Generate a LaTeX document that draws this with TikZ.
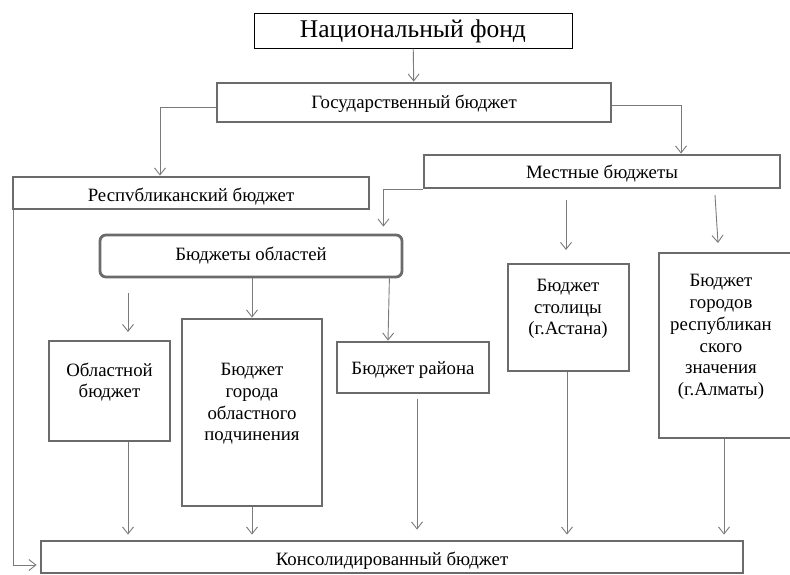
\documentclass[tikz,border=0pt]{standalone}
\usepackage{fontspec}
\setmainfont{Liberation Serif}
\usetikzlibrary{arrows.meta}
\definecolor{boxgray}{HTML}{6B6B6B}
\definecolor{linegray}{HTML}{7A7A7A}
\tikzset{
  x=1pt, y=-1pt,
  thickbox/.style={draw=boxgray, line width=2.8pt, fill=white, inner sep=0pt},
  thinbox/.style={draw=black, line width=1pt, fill=white, inner sep=0pt, text height=16.8pt, text depth=2pt},
  txt/.style={font=\fontsize{18.8}{21.7}\selectfont, align=center, inner sep=0pt},
  onefont/.style={font=\fontsize{18.8}{22}\selectfont, text height=12.4pt, text depth=0pt},
  arr/.style={draw=linegray, line width=0.9pt, -{Straight Barb[length=7pt, width=11pt, line width=0.9pt]}}
}
\begin{document}
\begin{tikzpicture}
\useasboundingbox (0,0) rectangle (790,574);
% boxes
\node[thinbox, minimum width=318pt, minimum height=35pt, font=\fontsize{25.5}{28}\selectfont] (nat) at (413,30.5) {Национальный фонд};
\node[thickbox, minimum width=394pt, minimum height=39pt, onefont] (gos) at (414,102.5) {Государственный бюджет};
\node[thickbox, minimum width=356pt, minimum height=32pt, onefont, text height=16.4pt] (resp) at (191,193) {Респvбликанский бюджет};
\node[thickbox, minimum width=356pt, minimum height=33pt, onefont, text height=14.4pt] (mest) at (602,171.5) {Местные бюджеты};
\node[thickbox, rounded corners=6pt, minimum width=302pt, minimum height=42pt, onefont, text depth=4pt] (obl) at (251,256) {Бюджеты областей};
\node[thickbox, minimum width=121pt, minimum height=100pt] (oblb) at (109.5,391) {};
\node[txt] (oblbt) at (109.5,382) {Областной\\бюджет};
\node[thickbox, minimum width=140pt, minimum height=187pt] (gor) at (252,412.5) {};
\node[txt] (gort) at (252,404) {Бюджет\\города\\областного\\подчинения};
\node[thickbox, minimum width=152pt, minimum height=51pt, onefont, text height=13.4pt] (rayon) at (413,367.5) {Бюджет района};
\node[thickbox, minimum width=121pt, minimum height=107pt] (stol) at (568.5,317.5) {};
\node[txt] (stolt) at (568,309) {Бюджет\\столицы\\(г.Астана)};
\node[thickbox, minimum width=134pt, minimum height=185pt] (alm) at (726,345.5) {};
\node[txt] (almt) at (721,337) {Бюджет\\городов\\республикан\\ского\\значения\\(г.Алматы)};
\node[thickbox, minimum width=702pt, minimum height=32pt, onefont, text height=16.4pt] (kons) at (392,557) {Консолидированный бюджет};
% named free ends
\coordinate (c1s) at (128,293);
\coordinate (c1e) at (128,332);
\coordinate (c2s) at (566,200);
\coordinate (c2e) at (566,250);
\coordinate (c3s) at (715,195);
\coordinate (c3e) at (718,243);
\coordinate (c4s) at (417,399);
% connectors
\draw[arr] (nat) -- (gos);
\draw[arr] ([yshift=-5pt]gos.west) -| ([xshift=-31pt]resp.north);
\draw[arr] ([yshift=-3pt]gos.east) -| ([xshift=79pt]mest.north);
\draw[arr] (mest.south west) -| ([xshift=-20pt,yshift=7pt]obl.north east);
\draw[arr] (obl.south -| gor.north) -- (gor.north);
\draw[arr] ([xshift=-14pt]obl.south east) -- ([xshift=-25pt]rayon.north);
\draw[arr] (c1s) -- (c1e);
\draw[arr] (c2s) -- (c2e);
\draw[arr] (c3s) -- (c3e);
\draw[arr] ([xshift=18.5pt]oblb.south) -- ([xshift=-264pt,yshift=5pt]kons.north);
\draw[arr] (gor.south) -- ([xshift=-140pt,yshift=5pt]kons.north);
\draw[arr] (c4s) -- ([xshift=25pt,yshift=10pt]kons.north);
\draw[arr] ([xshift=-1.5pt]stol.south) -- ([xshift=175pt,yshift=5pt]kons.north);
\draw[arr] ([xshift=-2pt]alm.south) -- ([xshift=332pt,yshift=5pt]kons.north);
\draw[arr] ([xshift=2pt]resp.south west) |- ([xshift=-3pt,yshift=-8pt]kons.west);
\end{tikzpicture}
\end{document}
